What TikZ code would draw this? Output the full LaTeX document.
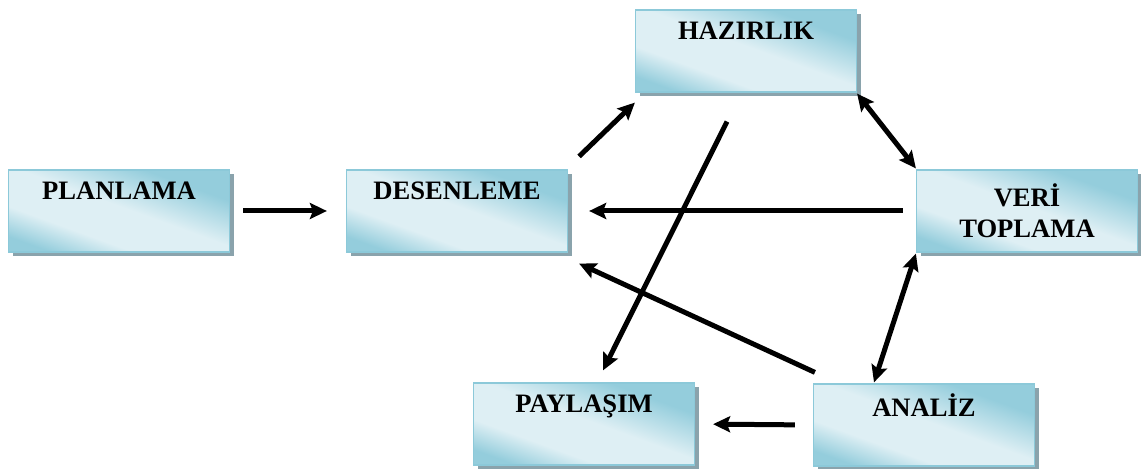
\documentclass[tikz,border=0pt]{standalone}
\usepackage{fontspec}
\setmainfont{Liberation Serif}
\usetikzlibrary{arrows.meta,shadows}

\definecolor{boxDark}{HTML}{94CDDC}
\definecolor{boxLight}{HTML}{DEEFF4}
\definecolor{boxLine}{HTML}{8CC9D9}
\definecolor{boxShade}{HTML}{8AA3AC}

\pgfdeclareverticalshading{stagefill}{100bp}{color(0bp)=(boxDark); color(24bp)=(boxDark);
  color(36bp)=(boxLight); color(52bp)=(boxLight); color(70bp)=(boxDark); color(100bp)=(boxDark)}

\tikzset{
  stage/.style={draw=boxLine,line width=0.6pt,shading=stagefill,shading angle=-20,
    minimum width=110.5pt,minimum height=41pt,inner sep=0pt,align=center,
    font=\fontsize{13.3}{15.5}\selectfont\bfseries,
    general shadow={shadow xshift=2pt,shadow yshift=-2pt,fill=boxShade}},
  flow/.style={line width=2.5pt,->}
}

\begin{document}
\begin{tikzpicture}[x=0.5pt,y=-0.5pt,>={Stealth[length=8.5pt,width=8pt,inset=1.5pt]}]
\useasboundingbox (0,0) rectangle (1141,469);
\node[stage] (planlama) at (119,211) {PLANLAMA\\\strut};
\node[stage] (desenleme) at (457,211) {DESENLEME\\\strut};
\node[stage] (hazirlik) at (746,51) {HAZIRLIK\\\strut};
\node[stage] (veri) at (1027,211) {VERİ\\TOPLAMA};
\node[stage] (analiz) at (924,425) {ANALİZ\\\strut};
\node[stage] (paylasim) at (584,424) {PAYLAŞIM\\\strut};
% connectors
\draw[flow,shorten <=6.5pt,shorten >=9.5pt] (planlama.east) -- (desenleme.west);
\draw[flow] ([xshift=5.5pt,yshift=6.5pt]desenleme.north east) -- ([yshift=-5pt]hazirlik.south west);
\draw[flow,<->] ([yshift=-0.5pt]hazirlik.south east) -- ([yshift=0.5pt]veri.north west);
\draw[flow,shorten <=6.5pt,shorten >=10.5pt] (veri.west) -- (desenleme.east);
\draw[flow,<->] ([yshift=-0.5pt]veri.south west) -- ([xshift=-25pt,yshift=0.5pt]analiz.north);
\draw[flow] ([xshift=1pt,yshift=5.5pt]analiz.north west) -- ([xshift=5.5pt,yshift=-5.5pt]desenleme.south east);
\draw[flow] ([xshift=-9.5pt,yshift=-14.5pt]hazirlik.south) -- ([xshift=9.5pt,yshift=6pt]paylasim.north);
\draw[flow,shorten <=9pt,shorten >=9pt] (analiz.west) -- (paylasim.east);
\end{tikzpicture}
\end{document}
